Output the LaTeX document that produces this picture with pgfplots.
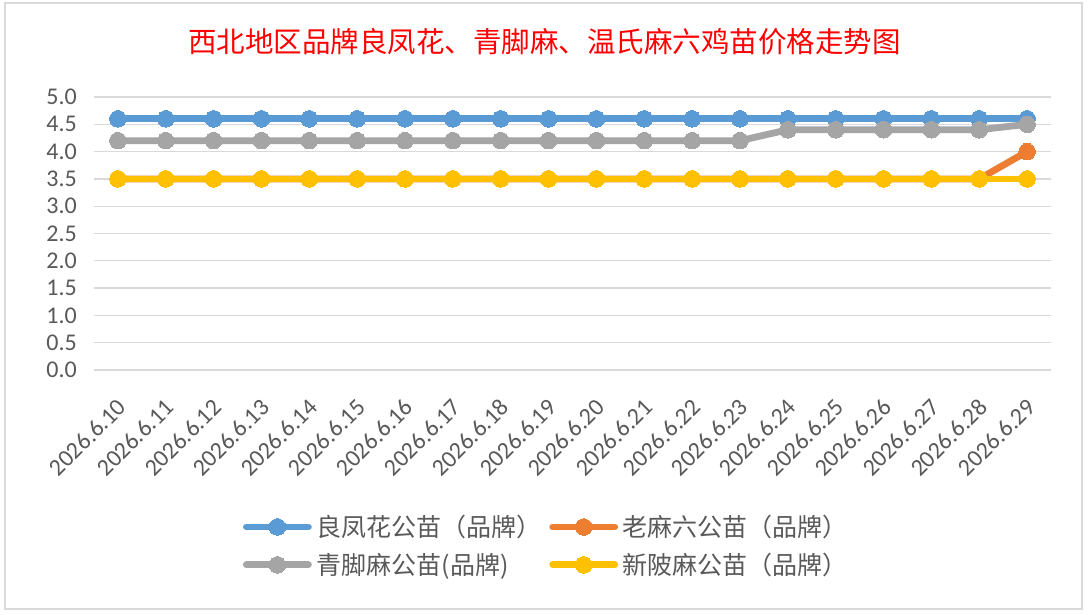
\documentclass[border=0pt]{standalone}
\usepackage{fontspec}
\setmainfont{Carlito}
\newfontfamily\cjk{Noto Sans CJK SC}
\usepackage{pgfplots}
\pgfplotsset{compat=1.18}
\definecolor{cblue}{HTML}{5B9BD5}
\definecolor{corange}{HTML}{ED7D31}
\definecolor{cgray}{HTML}{A5A5A5}
\definecolor{cyellow}{HTML}{FFC000}
\definecolor{tc}{HTML}{595959}
\definecolor{gridc}{HTML}{D9D9D9}
\definecolor{framec}{HTML}{D9D9D9}
\begin{document}
\begin{tikzpicture}
\useasboundingbox (0,0) rectangle (1089pt,614pt);
\fill[white] (0,0) rectangle (1089pt,614pt);
\draw[framec, line width=1.5pt] (5pt,5pt) rectangle (1082pt,611pt);
\node[text=red, font=\cjk\fontsize{28.5}{34}\selectfont, inner sep=0pt] at (544.5pt,572pt) {西北地区品牌良凤花、青脚麻、温氏麻六鸡苗价格走势图};
\begin{axis}[
  at={(94pt,244pt)}, anchor=south west,
  scale only axis, width=957pt, height=273pt,
  xmin=-0.5, xmax=19.5, ymin=0, ymax=5,
  clip=false,
  xtick={0,1,2,3,4,5,6,7,8,9,10,11,12,13,14,15,16,17,18,19},
  xticklabels={2026.6.10,2026.6.11,2026.6.12,2026.6.13,2026.6.14,2026.6.15,2026.6.16,2026.6.17,2026.6.18,2026.6.19,2026.6.20,2026.6.21,2026.6.22,2026.6.23,2026.6.24,2026.6.25,2026.6.26,2026.6.27,2026.6.28,2026.6.29},
  ytick={0,0.5,1,1.5,2,2.5,3,3.5,4,4.5,5},
  tick label style={font=\fontsize{24}{28}\selectfont, text=tc, inner sep=0pt},
  xticklabel style={xshift=4pt, yshift=-33pt, rotate=45, anchor=east},
  yticklabel style={anchor=east, xshift=-17pt, /pgf/number format/fixed, /pgf/number format/fixed zerofill, /pgf/number format/precision=1, /pgf/number format/assume math mode=true},
  major tick length=0pt,
  axis line style={draw=none},
  ymajorgrids,
  major grid style={gridc, line width=1.3pt},
  every axis plot/.append style={line width=6.8pt, line cap=round, line join=round, mark=*, mark size=8.3pt, mark options={solid, line width=0pt}},
  legend image code/.code={\draw[mark repeat=2, mark phase=2, #1] plot coordinates {(0pt,0pt) (31pt,0pt) (62pt,0pt)};},
  legend columns=2,
  legend style={at={(0.1557,-0.533)}, anchor=north west, draw=none, fill=none, inner sep=0pt, outer sep=0pt,
    font=\cjk\fontsize{25}{30}\selectfont, text=tc, row sep=15pt,
    nodes={inner sep=0pt, anchor=west},
    /tikz/every odd column/.append style={column sep=4.75pt},
    /tikz/every even column/.append style={column sep=7.75pt}},
  legend cell align=left,
]
\addplot[color=cblue] coordinates {(0,4.6) (1,4.6) (2,4.6) (3,4.6) (4,4.6) (5,4.6) (6,4.6) (7,4.6) (8,4.6) (9,4.6) (10,4.6) (11,4.6) (12,4.6) (13,4.6) (14,4.6) (15,4.6) (16,4.6) (17,4.6) (18,4.6) (19,4.6)};
\addlegendentry{良凤花公苗（品牌）}
\addplot[color=corange] coordinates {(0,3.5) (1,3.5) (2,3.5) (3,3.5) (4,3.5) (5,3.5) (6,3.5) (7,3.5) (8,3.5) (9,3.5) (10,3.5) (11,3.5) (12,3.5) (13,3.5) (14,3.5) (15,3.5) (16,3.5) (17,3.5) (18,3.5) (19,4.0)};
\addlegendentry{老麻六公苗（品牌）}
\addplot[color=cgray] coordinates {(0,4.2) (1,4.2) (2,4.2) (3,4.2) (4,4.2) (5,4.2) (6,4.2) (7,4.2) (8,4.2) (9,4.2) (10,4.2) (11,4.2) (12,4.2) (13,4.2) (14,4.4) (15,4.4) (16,4.4) (17,4.4) (18,4.4) (19,4.5)};
\addlegendentry{青脚麻公苗(品牌)}
\addplot[color=cyellow] coordinates {(0,3.5) (1,3.5) (2,3.5) (3,3.5) (4,3.5) (5,3.5) (6,3.5) (7,3.5) (8,3.5) (9,3.5) (10,3.5) (11,3.5) (12,3.5) (13,3.5) (14,3.5) (15,3.5) (16,3.5) (17,3.5) (18,3.5) (19,3.5)};
\addlegendentry{新陂麻公苗（品牌）}
\end{axis}
\end{tikzpicture}
\end{document}
